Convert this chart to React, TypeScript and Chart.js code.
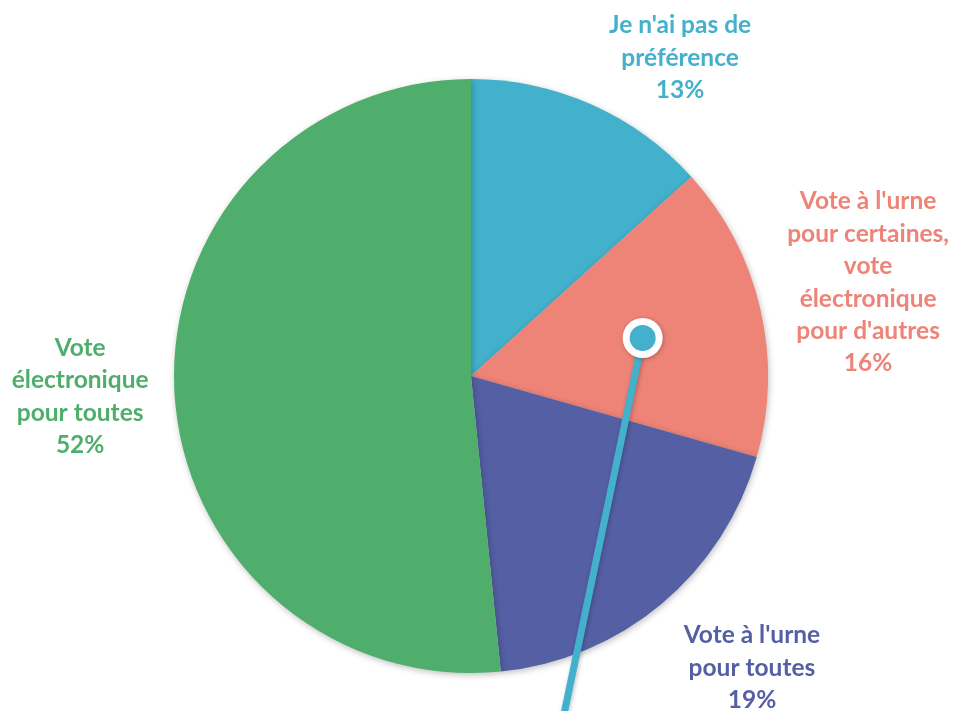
import React, { useEffect, useRef } from "react";
import { Chart, registerables } from "chart.js";

Chart.register(...registerables);

const categories: string[][] = [
  ["Je n'ai pas de", "préférence"],
  ["Vote à l'urne", "pour certaines,", "vote", "électronique", "pour d'autres"],
  ["Vote à l'urne", "pour toutes"],
  ["Vote", "électronique", "pour toutes"],
];
const values: number[] = [13.3, 16.1, 19.0, 51.6];
const percentLabels: string[] = ["13%", "16%", "19%", "52%"];
const colors: string[] = ["#43B0CC", "#EE8377", "#545FA4", "#4FAE6C"];

// label block centre offsets from pie centre, in units of the radius
const labelOffsets: [number, number][] = [
  [0.704, -1.072],
  [1.337, -0.315],
  [0.946, 0.983],
  [-1.316, 0.069],
];

const shadowPlugin = {
  id: "shadowPlugin",
  beforeDatasetsDraw(chart: any) {
    const ctx = chart.ctx;
    ctx.save();
    ctx.shadowColor = "rgba(0,0,0,0.25)";
    ctx.shadowBlur = 6;
    ctx.shadowOffsetX = 1;
    ctx.shadowOffsetY = 2;
  },
  afterDatasetsDraw(chart: any) {
    chart.ctx.restore();
  },
};

const labelPlugin = {
  id: "labelPlugin",
  afterDraw(chart: any) {
    const ctx = chart.ctx;
    const meta = chart.getDatasetMeta(0);
    const lineH = 32.4;
    ctx.save();
    ctx.font = "bold 24.5px Lato, 'Open Sans', sans-serif";
    ctx.textAlign = "center";
    ctx.textBaseline = "middle";
    meta.data.forEach((arc: any, i: number) => {
      const { x, y, outerRadius } = arc.getProps(["x", "y", "outerRadius"], true);
      const [ox, oy] = labelOffsets[i];
      const cx = x + ox * outerRadius;
      const cy = y + oy * outerRadius;
      const lines = [...categories[i], percentLabels[i]];
      const top = cy - ((lines.length - 1) * lineH) / 2;
      ctx.fillStyle = colors[i];
      lines.forEach((l, k) => ctx.fillText(l, cx, top + k * lineH));
    });
    ctx.restore();
  },
};

const pointerPlugin = {
  id: "pointerPlugin",
  afterDatasetsDraw(chart: any) {
    const ctx = chart.ctx;
    const arc = chart.getDatasetMeta(0).data[0];
    if (!arc) return;
    const { x, y, outerRadius } = arc.getProps(["x", "y", "outerRadius"], true);
    const px = x + outerRadius * 0.578;
    const py = y - outerRadius * 0.128;
    const dirX = -78 / 373;
    const endY = chart.height + 10;
    const endX = px + (endY - py) * dirX;
    ctx.save();
    ctx.shadowColor = "rgba(0,0,0,0.25)";
    ctx.shadowBlur = 4;
    ctx.shadowOffsetX = 1;
    ctx.shadowOffsetY = 1;
    ctx.strokeStyle = colors[0];
    ctx.lineWidth = 7;
    ctx.beginPath();
    ctx.moveTo(px, py);
    ctx.lineTo(endX, endY);
    ctx.stroke();
    ctx.beginPath();
    ctx.arc(px, py, 20, 0, Math.PI * 2);
    ctx.fillStyle = "#ffffff";
    ctx.fill();
    ctx.shadowColor = "transparent";
    ctx.beginPath();
    ctx.arc(px, py, 13, 0, Math.PI * 2);
    ctx.fillStyle = colors[0];
    ctx.fill();
    ctx.restore();
  },
};

export default function App() {
  const ref = useRef<HTMLCanvasElement | null>(null);
  useEffect(() => {
    if (!ref.current) return;
    const chart = new Chart(ref.current, {
      type: "pie",
      data: {
        labels: categories.map((c) => c.join(" ")),
        datasets: [
          {
            data: values,
            backgroundColor: colors,
            borderWidth: 0,
          },
        ],
      },
      options: {
        responsive: false,
        animation: false,
        layout: { padding: { left: 174, right: 186, top: 79, bottom: 38 } },
        plugins: {
          legend: { display: false },
          tooltip: { enabled: false },
        },
      },
      plugins: [shadowPlugin, pointerPlugin, labelPlugin],
    });
    return () => chart.destroy();
  }, []);
  return (
    <div style={{ position: "fixed", left: 0, top: 0, width: 954, height: 711, background: "#fff" }}>
      <canvas ref={ref} width={954} height={711} />
    </div>
  );
}
